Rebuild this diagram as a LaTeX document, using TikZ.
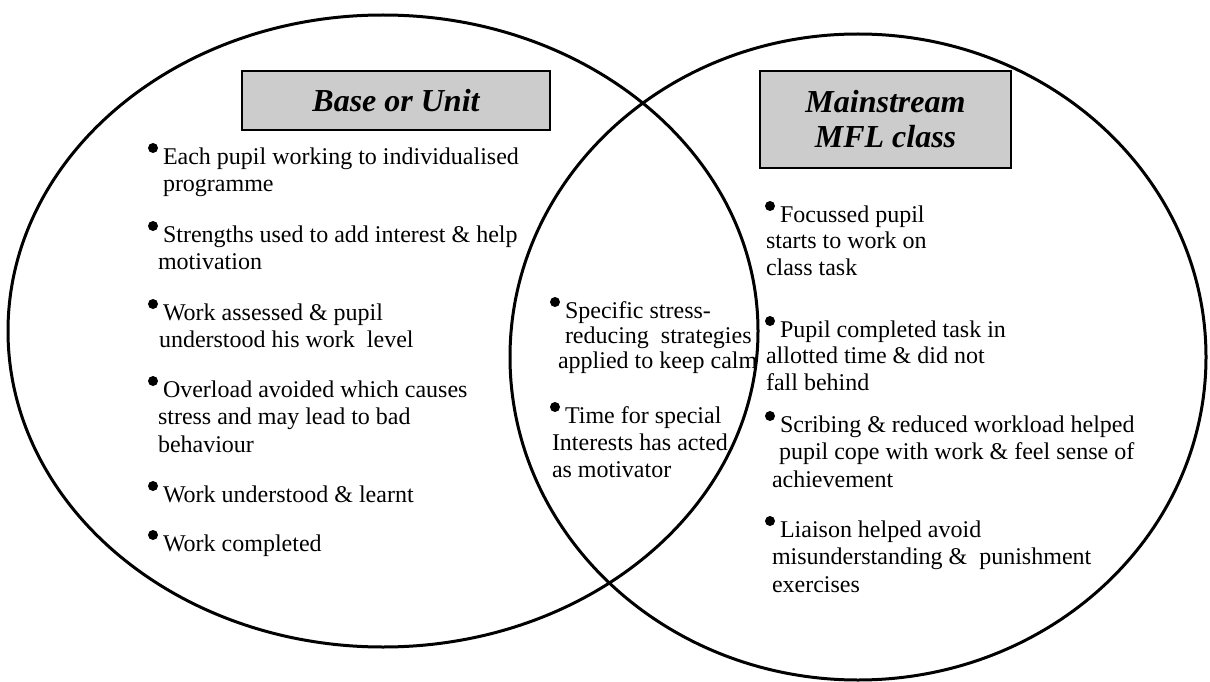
\documentclass[tikz,border=0pt]{standalone}
\usepackage{fontspec}
\setmainfont{Liberation Serif}
\definecolor{boxgray}{RGB}{204,204,204}
\newcommand\bul{\makebox[15pt][l]{\tikz[baseline=0pt]{\useasboundingbox (0pt,0pt) rectangle (10pt,1pt);\fill[black] (5pt,16pt) circle[radius=5pt];}}}
\begin{document}
\begin{tikzpicture}[x=1pt,y=-1pt,
  every node/.style={inner sep=0pt, outer sep=0pt},
  venn/.style={draw=black, line width=3pt},
  titlebox/.style={draw=black, line width=1.5pt, fill=boxgray, align=center,
    font=\fontsize{32}{35}\selectfont\bfseries\itshape},
  item/.style={anchor=base west, align=left, font=\fontsize{24}{27.5}\selectfont},
  itemb/.style={item, font=\fontsize{24}{25}\selectfont},
  itemc/.style={item, font=\fontsize{24}{26.5}\selectfont},
  itemd/.style={item, font=\fontsize{24}{27}\selectfont}]
\useasboundingbox (0,0) rectangle (1210,682);
% Venn circles
\draw[venn] (383,331) ellipse [x radius=375pt, y radius=316pt];
\draw[venn] (858,357) ellipse [x radius=348pt, y radius=323pt];
% title boxes
\node[titlebox, minimum width=308pt, minimum height=59pt] (baseT) at (396,100.5) {Base or Unit};
\node[titlebox, minimum width=251pt, minimum height=97pt] (mainT) at (885.5,119.5) {Mainstream\\MFL class};
% left column (node placed at baseline of last line)
\node[item] (l1) at (148,191.5) {\bul Each pupil working to individualised\\\hspace*{15pt}programme};
\node[item] (l2) at (148,269.5) {\bul Strengths used to add interest \& help\\\hspace*{10pt}motivation};
\node[item] (l3) at (148,347.5) {\bul Work assessed \& pupil\\\hspace*{11pt}understood his work\ \ level};
\node[item] (l4) at (148,452) {\bul Overload avoided which causes\\\hspace*{10pt}stress and may lead to bad\\\hspace*{10pt}behaviour};
\node[item] (l5) at (148,502) {\bul Work understood \& learnt};
\node[item] (l6) at (148,551) {\bul Work completed};
% middle column
\node[itemb] (m1) at (550,368) {\bul Specific stress-\\\hspace*{15pt}reducing\ \ strategies\\\hspace*{8pt}applied to keep calm};
\node[itemd] (m2) at (550,477) {\bul Time for special\\\hspace*{2pt}Interests has acted\\\hspace*{2pt}as motivator};
% right column
\node[itemc] (r1) at (765,275) {\bul Focussed pupil\\\hspace*{1pt}starts to work on\\\hspace*{1pt}class task};
\node[itemc] (r2) at (765,390) {\bul Pupil completed task in\\\hspace*{1pt}allotted time \& did not\\\hspace*{1pt}fall behind};
\node[item] (r3) at (765,487) {\bul Scribing \& reduced workload helped\\\hspace*{14pt}pupil cope with work \& feel sense of\\\hspace*{7pt}achievement};
\node[item] (r4) at (765,592) {\bul Liaison helped avoid\\\hspace*{7pt}misunderstanding \&\ \ punishment\\\hspace*{7pt}exercises};
\end{tikzpicture}
\end{document}
